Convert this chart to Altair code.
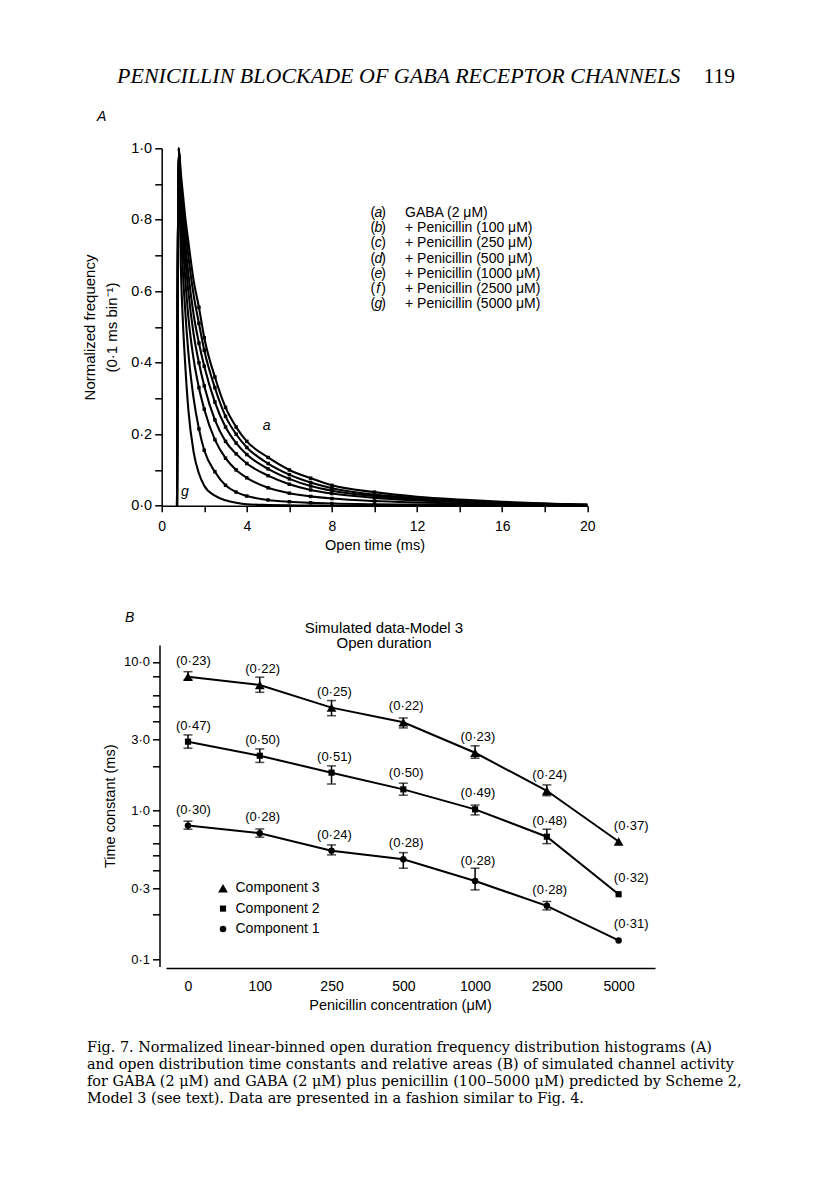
import altair as alt
import pandas as pd

# page geometry: the plot area is panel A's data rectangle
OX, OY = 161.7, 148.3          # page position of panel A plot origin
PW, PH = 425.6, 357.4          # panel A plot size
PAD = {"left": OX - 8, "top": OY - 8, "right": 816 - 8 - (OX + PW), "bottom": 1203 - 8 - (OY + PH)}

# ---------------- Panel A data ----------------
open_time = [0.8, 0.9, 1.0, 1.1, 1.25, 1.5, 1.75, 2.0, 2.5, 3.0, 3.5, 4.0, 5.0, 6.0, 7.0,
             8.0, 10.0, 12.0, 14.0, 16.0, 18.0, 20.0]
rise_time = 0.72
freq_a = [1.0, 0.93, 0.87, 0.81, 0.74, 0.63, 0.555, 0.47, 0.36, 0.275, 0.22, 0.18, 0.135, 0.10, 0.077,
          0.057, 0.038, 0.025, 0.017, 0.011, 0.006, 0.003]
freq_b = [1.0, 0.91, 0.84, 0.78, 0.70, 0.59, 0.51, 0.435, 0.33, 0.25, 0.20, 0.163, 0.118, 0.087, 0.065,
          0.049, 0.031, 0.021, 0.014, 0.009, 0.005, 0.003]
freq_c = [1.0, 0.89, 0.81, 0.74, 0.65, 0.535, 0.455, 0.39, 0.29, 0.22, 0.175, 0.143, 0.103, 0.075, 0.055,
          0.042, 0.027, 0.018, 0.012, 0.008, 0.005, 0.002]
freq_d = [1.0, 0.87, 0.78, 0.70, 0.60, 0.48, 0.40, 0.335, 0.24, 0.18, 0.145, 0.118, 0.084, 0.060, 0.044,
          0.034, 0.022, 0.015, 0.010, 0.006, 0.004, 0.002]
freq_e = [1.0, 0.84, 0.73, 0.64, 0.53, 0.41, 0.33, 0.27, 0.185, 0.133, 0.100, 0.078, 0.050, 0.035, 0.026,
          0.020, 0.013, 0.009, 0.006, 0.004, 0.003, 0.001]
freq_f = [1.0, 0.79, 0.65, 0.55, 0.43, 0.30, 0.215, 0.155, 0.095, 0.057, 0.038, 0.027, 0.016, 0.011, 0.008,
          0.006, 0.004, 0.003, 0.002, 0.001, 0.001, 0.0]
freq_g = [1.0, 0.67, 0.51, 0.40, 0.27, 0.15, 0.09, 0.056, 0.028, 0.015, 0.008, 0.004, 0.002, 0.001, 0.0005,
          0.0, 0.0, 0.0, 0.0, 0.0, 0.0, 0.0]
curve_letters = ["a", "b", "c", "d", "e", "f", "g"]
curve_freqs = [freq_a, freq_b, freq_c, freq_d, freq_e, freq_f, freq_g]
legend_texts = ["GABA (2 \u03bcM)", "+ Penicillin (100 \u03bcM)", "+ Penicillin (250 \u03bcM)",
                "+ Penicillin (500 \u03bcM)", "+ Penicillin (1000 \u03bcM)", "+ Penicillin (2500 \u03bcM)",
                "+ Penicillin (5000 \u03bcM)"]
a_yticks = [round(i * 0.1, 1) for i in range(11)]
a_xticks = list(range(0, 21, 2))

# ---------------- Panel B data ----------------
conc_labels = ["0", "100", "250", "500", "1000", "2500", "5000"]
tau_3 = [7.96, 7.0, 4.93, 3.93, 2.45, 1.36, 0.62]
lo_3 = [7.6, 6.25, 4.35, 3.6, 2.25, 1.26, None]
hi_3 = [8.6, 7.9, 5.5, 4.2, 2.73, 1.49, None]
tau_2 = [2.91, 2.34, 1.80, 1.39, 1.02, 0.668, 0.274]
lo_2 = [2.63, 2.11, 1.51, 1.27, 0.936, 0.60, None]
hi_2 = [3.23, 2.60, 2.0, 1.53, 1.09, 0.75, None]
tau_1 = [0.793, 0.705, 0.538, 0.471, 0.336, 0.229, 0.134]
lo_1 = [0.75, 0.663, 0.504, 0.41, 0.293, 0.215, None]
hi_1 = [0.85, 0.753, 0.588, 0.522, 0.41, 0.245, None]
area_3 = ["(0\u00b723)", "(0\u00b722)", "(0\u00b725)", "(0\u00b722)", "(0\u00b723)", "(0\u00b724)", "(0\u00b737)"]
area_2 = ["(0\u00b747)", "(0\u00b750)", "(0\u00b751)", "(0\u00b750)", "(0\u00b749)", "(0\u00b748)", "(0\u00b732)"]
area_1 = ["(0\u00b730)", "(0\u00b728)", "(0\u00b724)", "(0\u00b728)", "(0\u00b728)", "(0\u00b728)", "(0\u00b731)"]
component_names = ["Component 3", "Component 2", "Component 1"]
b_yticks = [0.1, 0.2, 0.3, 0.4, 0.5, 0.6, 0.8, 1, 2, 3, 4, 5, 6, 8, 10]
b_ylabels = [0.1, 0.3, 1, 3, 10]

header_title = "PENICILLIN BLOCKADE OF GABA RECEPTOR CHANNELS"
page_number = "119"
caption_lines = [
    "Fig. 7. Normalized linear-binned open duration frequency distribution histograms (A)",
    "and open distribution time constants and relative areas (B) of simulated channel activity",
    "for GABA (2 \u03bcM) and GABA (2 \u03bcM) plus penicillin (100\u20135000 \u03bcM) predicted by Scheme 2,",
    "Model 3 (see text). Data are presented in a fashion similar to Fig. 4.",
]

SANS = "Liberation Sans"
SERIF = "Liberation Serif"
CAPFONT = "DejaVu Serif"

# marker style per component: (shape, size)
MARKERS = {1: ("circle", 42), 2: ("square", 38), 3: ("triangle-up", 95)}


def px(x):
    return x - OX


def py(y):
    return y - OY


# ---------------- build tables ----------------
rows = []
for letter, fr in zip(curve_letters, curve_freqs):
    rows.append({"curve": letter, "t": rise_time, "f": 0.0})
    for t, v in zip(open_time, fr):
        rows.append({"curve": letter, "t": t, "f": v})
dfA = pd.DataFrame(rows)
dfA_pts = dfA[(dfA.t >= 1.75) & (dfA.t <= 11) & (dfA.curve != "g")]

dfLegA = pd.DataFrame({"i": list(range(7)), "letter": curve_letters, "text": legend_texts})

rowsB = []
for comp, taus, los, his, areas in [(1, tau_1, lo_1, hi_1, area_1), (2, tau_2, lo_2, hi_2, area_2),
                                    (3, tau_3, lo_3, hi_3, area_3)]:
    for i in range(7):
        rowsB.append({"comp": comp, "idx": i, "tau": taus[i], "lo": los[i], "hi": his[i], "area": areas[i]})
dfB = pd.DataFrame(rowsB)
dfB_err = dfB.dropna(subset=["lo"])

dfLegB = pd.DataFrame({"i": [0, 1, 2], "comp": [3, 2, 1], "name": component_names})
dfCap = pd.DataFrame({"i": list(range(len(caption_lines))), "line": caption_lines})

axis_common = dict(grid=False, domainColor="black", tickColor="black", labelColor="black",
                   titleColor="black", domainWidth=1.5, tickWidth=1.5, labelFont=SANS, titleFont=SANS,
                   titleFontWeight="normal", labelFlush=False, labelOverlap=False)

# ---------------- Panel A ----------------
xA_scale = alt.Scale(domain=[0, 20], range=[0, PW], nice=False, zero=False)
yA_scale = alt.Scale(domain=[0, 1], range=[PH, 0], nice=False, zero=False)
xA_axis = alt.Axis(orient="bottom", values=a_xticks,
                   labelExpr="datum.value % 4 == 0 ? datum.label : ''",
                   tickSize=6, labelFontSize=14, labelPadding=8,
                   title="Open time (ms)", titleFontSize=14.5, titlePadding=5, **axis_common)
yA_axis = alt.Axis(orient="left", values=a_yticks,
                   labelExpr="round(datum.value*10) % 2 == 0 ? replace(format(datum.value, '.1f'), '.', '\u00b7') : ''",
                   tickSize=7, labelFontSize=14.5, labelPadding=3,
                   title=["Normalized frequency", "(0\u00b71 ms bin\u207b\u00b9)"], titleFontSize=15,
                   titleLineHeight=22, titlePadding=11, **axis_common)

curvesA = alt.Chart(dfA).mark_line(color="black", strokeWidth=2.1, interpolate="monotone").encode(
    x=alt.X("t:Q", scale=xA_scale, axis=xA_axis),
    y=alt.Y("f:Q", scale=yA_scale, axis=yA_axis),
    detail="curve:N",
)
pointsA = alt.Chart(dfA_pts).mark_point(shape="square", filled=True, color="black", size=12, opacity=1).encode(
    x=alt.X("t:Q", scale=xA_scale, axis=None),
    y=alt.Y("f:Q", scale=yA_scale, axis=None),
)

# ---------------- Panel B ----------------
xB_scale = alt.Scale(domain=[-0.3065, 6.507], range=[px(166), px(655)], nice=False, zero=False)
yB_scale = alt.Scale(type="log", domain=[0.0895, 13.0], range=[py(966.5), py(645)], nice=False, zero=False)
lab_js = "[" + ",".join("'" + s + "'" for s in conc_labels) + "]"
ylab_js = "[" + ",".join(str(v) for v in b_ylabels) + "]"
xB_axis = alt.Axis(orient="bottom", offset=968 - (OY + PH), values=list(range(7)),
                   labelExpr=lab_js + "[datum.value]", ticks=False, labelFontSize=14, labelPadding=11,
                   title="Penicillin concentration (\u03bcM)", titleFontSize=14.5, titlePadding=5,
                   titleX=px(400), **axis_common)
yB_axis = alt.Axis(orient="left", offset=OX - 159.5, values=b_yticks,
                   labelExpr="indexof(" + ylab_js + ", datum.value) >= 0 ? replace(format(datum.value, '.1f'), '.', '\u00b7') : ''",
                   tickSize=7, labelFontSize=13, labelPadding=3,
                   title="Time constant (ms)", titleFontSize=14.5, titlePadding=6, **axis_common)

linesB = alt.Chart(dfB).mark_line(color="black", strokeWidth=2).encode(
    x=alt.X("idx:Q", scale=xB_scale, axis=xB_axis),
    y=alt.Y("tau:Q", scale=yB_scale, axis=yB_axis),
    detail="comp:N",
)
errB = alt.Chart(dfB_err).mark_rule(color="black", strokeWidth=1.5).encode(
    x=alt.X("idx:Q", scale=xB_scale, axis=None),
    y=alt.Y("lo:Q", scale=yB_scale, axis=None),
    y2="hi:Q",
)
capLo = alt.Chart(dfB_err).mark_tick(color="black", orient="horizontal", size=9, thickness=1.5).encode(
    x=alt.X("idx:Q", scale=xB_scale, axis=None),
    y=alt.Y("lo:Q", scale=yB_scale, axis=None),
)
capHi = alt.Chart(dfB_err).mark_tick(color="black", orient="horizontal", size=9, thickness=1.5).encode(
    x=alt.X("idx:Q", scale=xB_scale, axis=None),
    y=alt.Y("hi:Q", scale=yB_scale, axis=None),
)
ptsB = [
    alt.Chart(dfB).transform_filter(f"datum.comp == {c}").mark_point(
        filled=True, color="black", opacity=1, shape=MARKERS[c][0], size=MARKERS[c][1]).encode(
        x=alt.X("idx:Q", scale=xB_scale, axis=None),
        y=alt.Y("tau:Q", scale=yB_scale, axis=None),
    )
    for c in (1, 2, 3)
]
areasB = alt.Chart(dfB).transform_calculate(
    lx="datum.idx + (datum.idx == 6 ? 0.175 : (datum.idx == 0 ? 0.075 : 0.04))",
    ly="max(datum.tau * 1.28, isValid(datum.hi) ? datum.hi * 1.12 : 0)",
).mark_text(font=SANS, fontSize=13, color="black").encode(
    x=alt.X("lx:Q", scale=xB_scale, axis=None),
    y=alt.Y("ly:Q", scale=yB_scale, axis=None),
    text="area:N",
)


# ---------------- free text (pixel placed) ----------------
def txt(s, x, y, size, font=SANS, style="normal", align="left", baseline="middle"):
    return alt.Chart(pd.DataFrame({"s": [s]})).mark_text(
        font=font, fontSize=size, fontStyle=style, align=align, baseline=baseline, color="black",
    ).encode(x=alt.value(px(x)), y=alt.value(py(y)), text="s:N")


legA_base = alt.Chart(dfLegA).transform_calculate(yy=f"{py(212.7)} + datum.i * 15.27")
legA_open = legA_base.mark_text(font=SANS, fontSize=14, align="left", baseline="middle", color="black").encode(
    x=alt.value(px(370.5)), y=alt.Y("yy:Q", scale=None, axis=None), text=alt.value("("))
legA_letter = legA_base.mark_text(font=SANS, fontSize=14, fontStyle="italic", align="center",
                                  baseline="middle", color="black").encode(
    x=alt.value(px(378.3)), y=alt.Y("yy:Q", scale=None, axis=None), text="letter:N")
legA_close = legA_base.mark_text(font=SANS, fontSize=14, align="right", baseline="middle", color="black").encode(
    x=alt.value(px(386)), y=alt.Y("yy:Q", scale=None, axis=None), text=alt.value(")"))
legA_text = legA_base.mark_text(font=SANS, fontSize=14, align="left", baseline="middle", color="black").encode(
    x=alt.value(px(405)), y=alt.Y("yy:Q", scale=None, axis=None), text="text:N")

legB_base = alt.Chart(dfLegB).transform_calculate(yy=f"{py(888.3)} + datum.i * 20.3")
legB_pts = [
    legB_base.transform_filter(f"datum.comp == {c}").mark_point(
        filled=True, color="black", opacity=1, shape=MARKERS[c][0], size=MARKERS[c][1]).encode(
        x=alt.value(px(223)), y=alt.Y("yy:Q", scale=None, axis=None))
    for c in (3, 2, 1)
]
legB_text = legB_base.mark_text(font=SANS, fontSize=14, align="left", baseline="middle", color="black").encode(
    x=alt.value(px(235.5)), y=alt.Y("yy:Q", scale=None, axis=None), text="name:N")

cap_text = alt.Chart(dfCap).transform_calculate(yy=f"{py(1052)} + datum.i * 17").mark_text(
    font=CAPFONT, fontSize=14.4, align="left", baseline="alphabetic", color="black").encode(
    x=alt.value(px(87)), y=alt.Y("yy:Q", scale=None, axis=None), text="line:N")

texts = [
    txt(header_title, 117, 83, 22, font=SERIF, style="italic", baseline="alphabetic"),
    txt(page_number, 735, 83, 21.5, font=SERIF, align="right", baseline="alphabetic"),
    txt("A", 97, 117, 14, style="italic"),
    txt("B", 125, 618, 14, style="italic"),
    txt("a", 266.7, 426, 14, style="italic", align="center"),
    txt("g", 185, 491.7, 14, style="italic", align="center"),
    txt("Simulated data-Model 3", 384, 627.7, 15, align="center"),
    txt("Open duration", 384, 643.3, 15, align="center"),
]

chart = alt.layer(
    curvesA, pointsA, linesB, errB, capLo, capHi, *ptsB, areasB,
    legA_open, legA_letter, legA_close, legA_text, *legB_pts, legB_text, cap_text, *texts
).resolve_scale(x="independent", y="independent").resolve_axis(
    x="independent", y="independent"
).properties(
    width=PW, height=PH, padding=PAD, autosize=alt.AutoSizeParams(type="none"),
    background="white",
).configure_view(stroke=None)

chart.save("out.html", embed_options={"renderer": "svg", "actions": False})
